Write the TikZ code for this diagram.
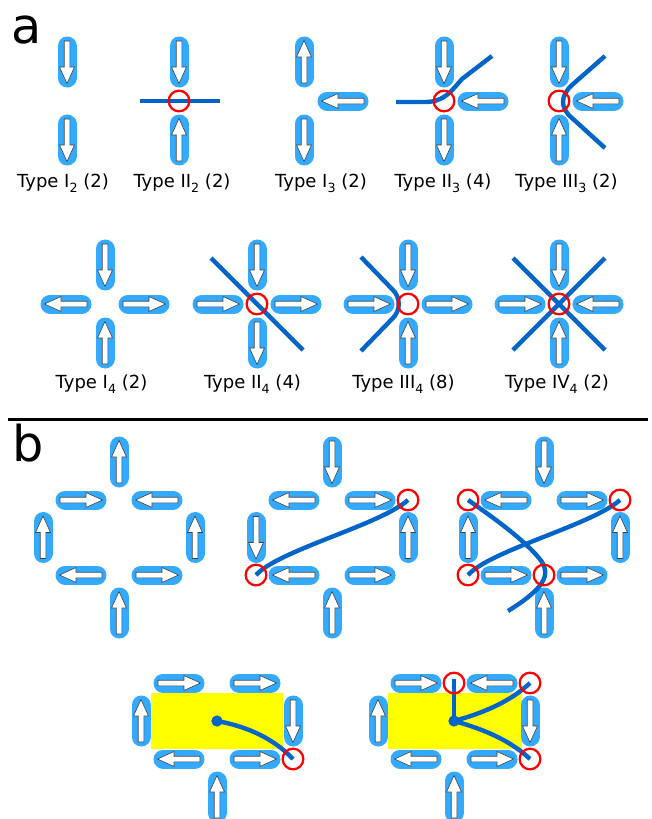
\documentclass[tikz,border=0pt]{standalone}
\usepackage{fontspec}
\setmainfont{DejaVu Sans}
\definecolor{capblue}{RGB}{51,170,255}
\definecolor{lineblue}{RGB}{0,100,200}
\definecolor{ringred}{RGB}{255,0,0}
\definecolor{boxyellow}{RGB}{255,255,0}
\tikzset{
  mag/.pic={
    \draw[capblue, line width=14.25pt, line cap=round] (-16,0) -- (16,0);
    \draw[black!75, line width=0.45pt, fill=white, line join=miter]
      (-21,-2.8) -- (5,-2.8) -- (5,-7.5) -- (21.5,0) -- (5,7.5) -- (5,2.8) -- (-21,2.8) -- cycle;
  },
  ring/.style={circle, draw=ringred, line width=1.7pt, minimum size=15.5pt, inner sep=0pt},
  string/.style={draw=lineblue, line width=3.3pt},
  dot/.style={circle, fill=lineblue, minimum size=8.2pt, inner sep=0pt},
  lbl/.style={anchor=base, inner sep=0pt, font=\fontsize{13.5}{16}\selectfont},
  big/.style={anchor=base west, inner sep=0pt, font=\fontsize{37}{40}\selectfont},
}
\newcommand{\mU}[1]{\pic[rotate=90] at (#1) {mag};}
\newcommand{\mD}[1]{\pic[rotate=-90] at (#1) {mag};}
\newcommand{\mL}[1]{\pic[rotate=180] at (#1) {mag};}
\newcommand{\mR}[1]{\pic at (#1) {mag};}
\newcommand{\sbx}[1]{\raisebox{-0.3em}{\fontsize{9.5}{10}\selectfont #1}}
\begin{document}
\begin{tikzpicture}[x=0.75pt, y=-0.75pt]
\useasboundingbox (0,0) rectangle (652,819);
\clip (0,0) rectangle (652,819);

% ---------- panel labels and rule
\node[big] (la) at (11,43) {a};
\node[big] (lb) at (12.5,461) {b};
\draw[line width=2.25pt] (8,419) coordinate (r1) -- (648,419) coordinate (r2);

% ---------- yellow regions (panel b, bottom row)
\fill[boxyellow] (151,693) rectangle (283,749);
\fill[boxyellow] (388,693) rectangle (522,749);

% ---------- panel a, row 1
\mD{67,62} \mD{67,140}
\mD{179,62} \mU{179,140}
\mU{304,62} \mD{304,140} \mL{343,101}
\mD{444,62} \mD{444,140} \mL{483,101}
\mD{559,62} \mU{559,140} \mL{598,101}

% ---------- panel a, row 2
\mD{105,265} \mU{105,343} \mL{66,304} \mR{144,304}
\mD{257,265} \mD{257,343} \mR{218,304} \mR{296,304}
\mD{408,265} \mU{408,343} \mR{369,304} \mR{447,304}
\mD{559,265} \mU{559,343} \mR{520,304} \mL{598,304}

% ---------- panel b, config 1
\mU{119,462} \mR{81,500} \mL{157,500} \mU{43,537.5} \mU{195,537.5} \mL{81,575} \mR{157,575} \mU{119,613}
% config 2
\mD{332,462} \mL{294,500} \mR{370,500} \mD{256,537.5} \mU{408,537.5} \mL{294,575} \mR{370,575} \mU{332,613}
% config 3
\mD{544,462} \mL{506,500} \mR{582,500} \mU{468,537.5} \mU{620,537.5} \mR{506,575} \mR{582,575} \mU{544,613}
% config 4
\mR{179,683} \mR{255,683} \mU{141,721} \mD{293,721} \mL{179,759} \mR{255,759} \mU{217,797}
% config 5
\mR{416,683} \mL{492,683} \mU{378,721} \mD{530,721} \mL{416,759} \mR{492,759} \mU{454,797}

% ---------- coordinates
\coordinate (vII2) at (179,101);
\coordinate (vII3) at (444,101);
\coordinate (vIII3) at (559,101);
\coordinate (vII4) at (257,304);
\coordinate (vIII4) at (408,304);
\coordinate (vIV4) at (559,304);
\coordinate (b2a) at (408,500);
\coordinate (b2b) at (256,575);
\coordinate (b3a) at (468,500);
\coordinate (b3b) at (620,500);
\coordinate (b3c) at (468,575);
\coordinate (b3d) at (544,575);
\coordinate (b4a) at (293,759);
\coordinate (b5a) at (454,683);
\coordinate (b5b) at (530,683);
\coordinate (b5c) at (530,759);

% ---------- strings
\draw[string] (140,101) coordinate (s1) -- (vII2) -- (220,101) coordinate (s2);
\draw[string] (396,102) coordinate (s3) -- (425,102) .. controls (445,102) and (452,90) .. (462,79) -- (492,56) coordinate (s4);
\draw[string] (605,56) coordinate (s5) -- (572,85) .. controls (560,96) and (560,108) .. (572,118) -- (605,148) coordinate (s6);
\draw[string] (211,258) coordinate (s7) -- (vII4) -- (303,350) coordinate (s8);
\draw[string] (361,257) coordinate (s9) -- (392,289) .. controls (401,297) and (401,311) .. (392,319) -- (361,351) coordinate (s10);
\draw[string] (513,258) coordinate (s11) -- (vIV4) -- (605,350) coordinate (s12);
\draw[string] (605,258) coordinate (s13) -- (vIV4) -- (513,350) coordinate (s14);
\draw[string] (b2b) .. controls (279,550) and (380,525) .. (b2a);
\draw[string] (b3c) .. controls (491,550) and (592,525) .. (b3b);
\draw[string] (b3a) .. controls (500,522) and (530,545) .. (542,562) .. controls (550,575) and (545,588) .. (508,611) coordinate (s15);

\node[dot] (d4) at (217,721) {};
\node[dot] (d5) at (454,721) {};
\draw[string] (d4.center) .. controls (250,727) and (275,740) .. (b4a);
\draw[string] (d5.center) -- (454,679) coordinate (s16);
\draw[string] (d5.center) .. controls (487,712) and (512,700) .. (b5b);
\draw[string] (d5.center) .. controls (487,730) and (512,742) .. (b5c);
\node[dot] at (d4) {};
\node[dot] at (d5) {};

% ---------- rings
\node[ring] (rII2) at (vII2) {};
\node[ring] (rII3) at (vII3) {};
\node[ring] (rIII3) at (vIII3) {};
\node[ring] (rII4) at (vII4) {};
\node[ring] (rIII4) at (vIII4) {};
\node[ring] (rIV4) at (vIV4) {};
\node[ring] (r2a) at (b2a) {};
\node[ring] (r2b) at (b2b) {};
\node[ring] (r3a) at (b3a) {};
\node[ring] (r3b) at (b3b) {};
\node[ring] (r3c) at (b3c) {};
\node[ring] (r3d) at (b3d) {};
\node[ring] (r4a) at (b4a) {};
\node[ring] (r5a) at (b5a) {};
\node[ring] (r5b) at (b5b) {};
\node[ring] (r5c) at (b5c) {};

% ---------- type labels
\node[lbl] (t1) at (63,187) {Type I\sbx{2} (2)};
\node[lbl] (t2) at (182,187) {Type II\sbx{2} (2)};
\node[lbl] (t3) at (321,187) {Type I\sbx{3} (2)};
\node[lbl] (t4) at (443,187) {Type II\sbx{3} (4)};
\node[lbl] (t5) at (566.5,187) {Type III\sbx{3} (2)};
\node[lbl] (t6) at (101.5,388) {Type I\sbx{4} (2)};
\node[lbl] (t7) at (252.5,388) {Type II\sbx{4} (4)};
\node[lbl] (t8) at (403.5,388) {Type III\sbx{4} (8)};
\node[lbl] (t9) at (557,388) {Type IV\sbx{4} (2)};
\end{tikzpicture}
\end{document}
